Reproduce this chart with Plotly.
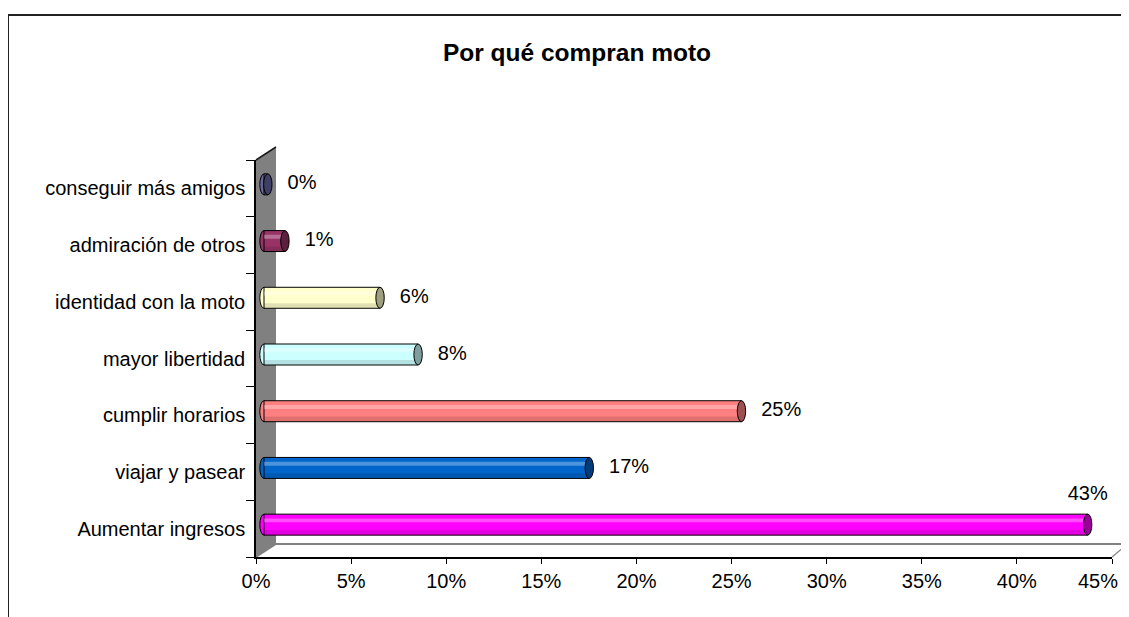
import plotly.graph_objects as go

# datos (de abajo hacia arriba)
CATEGORIAS = [
    "Aumentar ingresos",
    "viajar y pasear",
    "cumplir horarios",
    "mayor libertidad",
    "identidad con la moto",
    "admiración de otros",
    "conseguir más amigos",
]
VALORES = [0.433, 0.171, 0.251, 0.081, 0.061, 0.011, 0.002]
TICKS_X = [0.0, 0.05, 0.10, 0.15, 0.20, 0.25, 0.30, 0.35, 0.40, 0.45]

COLORES = ["#FF00FF", "#0066CC", "#FF8080", "#CCFFFF", "#FFFFCC", "#993366", "#666699"]
TAPAS = ["#990099", "#003C7A", "#9E4F4F", "#7F9F9F", "#9F9F7F", "#5C1F3D", "#3F3F66"]

TITULO = "Por qué compran moto"
FUENTE = "Arial, Liberation Sans, sans-serif"

# la página añade 8px de margen al body
OFF = 8
W, H = 1129, 617
L, R, T, B = 256 - OFF, 17, 156 - OFF, H - (557 - OFF)
PW, PH = W - L - R, H - T - B


def px(x):
    return (x - OFF - L) / PW


def py(y):
    return (H - B - (y - OFF)) / PH


idx = list(range(len(CATEGORIAS)))
ANCHO = 0.37

fig = go.Figure()

# cilindros
fig.add_trace(go.Bar(
    x=VALORES, y=idx, orientation="h", width=ANCHO,
    marker=dict(color=COLORES, line=dict(color="#000000", width=1)),
    xaxis="x2", yaxis="y2", showlegend=False, hoverinfo="skip",
))
fig.add_trace(go.Bar(
    x=VALORES, y=idx, orientation="h", width=0.07, offset=0.04,
    marker=dict(color="rgba(255,255,255,0.3)", line=dict(width=0)),
    xaxis="x2", yaxis="y2", showlegend=False, hoverinfo="skip",
))
fig.add_trace(go.Bar(
    x=VALORES, y=idx, orientation="h", width=0.08, offset=-0.175,
    marker=dict(color="rgba(0,0,0,0.12)", line=dict(width=0)),
    xaxis="x2", yaxis="y2", showlegend=False, hoverinfo="skip",
))

# etiquetas de datos
posiciones = ["top center" if v > 0.4 else "middle right" for v in VALORES]
fig.add_trace(go.Scatter(
    x=VALORES, y=idx, mode="text+markers",
    marker=dict(size=30, opacity=0),
    text=[f"{v:.0%}" for v in VALORES], textposition=posiciones,
    textfont=dict(family=FUENTE, size=20, color="#000000"),
    xaxis="x2", yaxis="y2", showlegend=False, hoverinfo="skip", cliponaxis=False,
))

# eje frontal (solo ejes)
fig.add_trace(go.Scatter(
    x=[None], y=[CATEGORIAS[0]], mode="markers", showlegend=False, hoverinfo="skip",
))

shapes = []
# pared izquierda gris
shapes.append(dict(
    type="path", xref="paper", yref="paper", layer="below",
    path=f"M {px(256)} {py(160)} L {px(276)} {py(147)} L {px(276)} {py(544)} L {px(256)} {py(557)} Z",
    fillcolor="#808080", line=dict(width=0),
))
shapes.append(dict(type="line", xref="paper", yref="paper", layer="below",
                   x0=px(256), y0=py(160), x1=px(276), y1=py(147),
                   line=dict(color="#1a1a1a", width=1.5)))
shapes.append(dict(type="line", xref="paper", yref="paper", layer="below",
                   x0=px(256), y0=py(557), x1=px(276), y1=py(544),
                   line=dict(color="#808080", width=1.5)))
# piso
shapes.append(dict(type="line", xref="paper", yref="paper", layer="below",
                   x0=px(276), y0=py(544), x1=px(1145), y1=py(544),
                   line=dict(color="#808080", width=2)))
shapes.append(dict(type="line", xref="paper", yref="paper", layer="below",
                   x0=px(1112), y0=py(557), x1=px(1130), y1=py(542),
                   line=dict(color="#808080", width=1.2)))
# marco
shapes.append(dict(type="line", xref="paper", yref="paper",
                   x0=px(8), y0=py(15), x1=px(1150), y1=py(15),
                   line=dict(color="#222222", width=2)))
shapes.append(dict(type="line", xref="paper", yref="paper",
                   x0=px(8), y0=py(15), x1=px(8), y1=py(640),
                   line=dict(color="#222222", width=2)))

# tapas de los cilindros
for i, v in enumerate(VALORES):
    shapes.append(dict(type="circle", xref="x2", yref="y2", layer="below",
                       x0=-0.0022, x1=0.0022, y0=i - ANCHO / 2, y1=i + ANCHO / 2,
                       fillcolor=COLORES[i], line=dict(color="#000000", width=1)))
    shapes.append(dict(type="circle", xref="x2", yref="y2",
                       x0=v - 0.0022, x1=v + 0.0022, y0=i - ANCHO / 2, y1=i + ANCHO / 2,
                       fillcolor=TAPAS[i], line=dict(color="#000000", width=1)))

# la última etiqueta del eje se alinea a la derecha para que no se corte
textos_x = [f"{t:.0%}" for t in TICKS_X]
ultima = textos_x[-1]
textos_x[-1] = ""
anotaciones = [dict(
    x=TICKS_X[-1], xref="x", y=py(581), yref="paper",
    text=ultima, showarrow=False, xanchor="right", yanchor="middle", xshift=8,
    font=dict(family=FUENTE, size=20, color="#000000"),
)]

fig.update_layout(
    width=W, height=H, template="none",
    paper_bgcolor="#FFFFFF", plot_bgcolor="rgba(0,0,0,0)",
    margin=dict(l=L, r=R, t=T, b=B, autoexpand=False),
    font=dict(family=FUENTE, size=20, color="#000000"),
    title=dict(text=f"<b>{TITULO}</b>", x=(577 - OFF) / W, xanchor="center",
               y=1 - (52 - OFF) / H, yanchor="middle",
               font=dict(family=FUENTE, size=24.5, color="#000000")),
    barmode="overlay",
    showlegend=False,
    shapes=shapes,
    annotations=anotaciones,
    xaxis=dict(
        domain=[0, px(1112)], range=[0, 0.45],
        tickmode="array", tickvals=TICKS_X, ticktext=textos_x,
        showline=True, linecolor="#000000", linewidth=1.5,
        ticks="outside", ticklen=5, tickcolor="#000000",
        showgrid=False, zeroline=False, automargin=False,
        tickfont=dict(size=20), anchor="y",
    ),
    yaxis=dict(
        domain=[0, py(160)], type="category",
        categoryorder="array", categoryarray=CATEGORIAS,
        range=[-0.5, len(CATEGORIAS) - 0.5],
        tickmode="array", tickvals=CATEGORIAS, ticktext=CATEGORIAS,
        showline=True, linecolor="#000000", linewidth=1.5,
        ticks="outside", ticklen=8, tickcolor="#000000", tickson="boundaries",
        ticklabelstandoff=5,
        showgrid=False, zeroline=False, automargin=False,
        tickfont=dict(size=20), anchor="x",
    ),
    xaxis2=dict(
        domain=[px(256.4), 1], range=[-0.004, 0.45], anchor="y2",
        visible=False, showgrid=False, zeroline=False,
    ),
    yaxis2=dict(
        domain=[py(553), 1], range=[-0.5, len(CATEGORIAS) - 0.5], anchor="x2",
        visible=False, showgrid=False, zeroline=False,
    ),
)

fig.write_html("out.html")
